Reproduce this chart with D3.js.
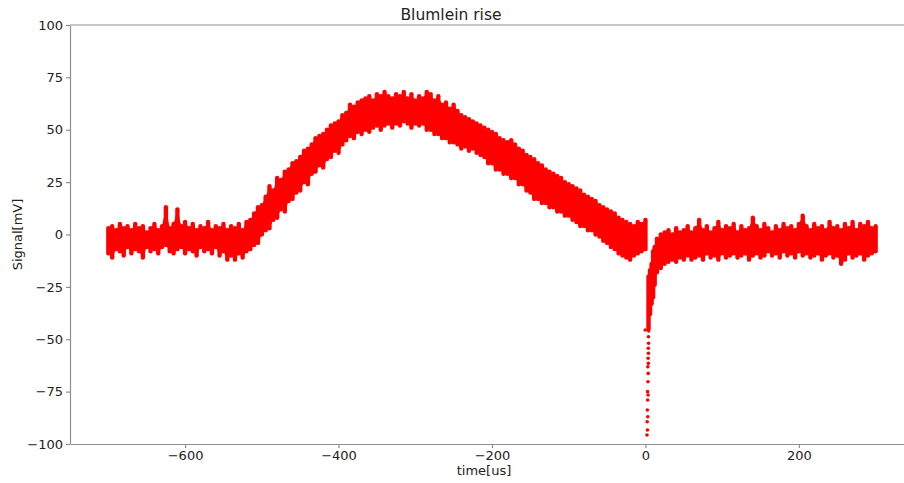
<!DOCTYPE html>
<html>
<head>
<meta charset="utf-8">
<script src="https://cdn.jsdelivr.net/npm/d3@7"></script>
<style>
  body { margin: 0; background: #fff; }
  svg text { font-family: 'DejaVu Sans', sans-serif; fill: #222; }
</style>
</head>
<body>
<svg id="chart"></svg>
<script>
// signal before the discharge, sampled every 5 us from -700 to 0 (upper / lower edge of the trace, mV)
const preStart = -700, preStep = 5;
const preHi = [
    3, 4, 2, 5, 3, 4, 2, 5, 3, 4,
    1, 3, 5, 2, 4, 13, 3, 5, 12, 4,
    6, 3, 5, 2, 4, 3, 6, 2, 4, 3,
    5, 2, 4, 3, 5, 2, 6, 7, 10, 13,
    14, 18, 23, 21, 27, 26, 30, 31, 34, 35,
    37, 40, 41, 43, 46, 47, 48, 50, 52, 53,
    54, 57, 58, 62, 61, 63, 64, 65, 66, 64,
    67, 66, 68, 66, 65, 67, 66, 68, 65, 67,
    64, 66, 65, 68, 67, 64, 66, 62, 63, 60,
    62, 59, 57, 56, 55, 54, 53, 52, 51, 50,
    49, 48, 46, 45, 44, 45, 43, 41, 40, 38,
    37, 36, 34, 33, 31, 30, 29, 28, 27, 25,
    24, 23, 22, 21, 19, 18, 17, 16, 14, 13,
    12, 11, 10, 8, 7, 6, 5, 4, 6, 5,
    7
];
const preLo = [
    -9, -11, -7, -8, -10, -6, -9, -7, -8, -11,
    -6, -8, -7, -9, -6, -5, -8, -9, -7, -6,
    -9, -7, -8, -10, -6, -8, -7, -9, -6, -10,
    -8, -12, -10, -12, -9, -11, -8, -7, -5, -4,
    0, 2, 3, 7, 8, 12, 11, 16, 17, 20,
    21, 25, 24, 29, 30, 33, 32, 36, 37, 40,
    39, 43, 45, 47, 46, 49, 48, 50, 49, 51,
    52, 50, 52, 53, 51, 53, 52, 54, 53, 51,
    53, 52, 53, 50, 50, 48, 48, 46, 46, 44,
    44, 43, 41, 42, 40, 41, 39, 38, 37, 34,
    34, 31, 31, 29, 29, 27, 27, 24, 24, 21,
    20, 17, 17, 15, 15, 13, 13, 11, 11, 9,
    9, 7, 6, 4, 4, 2, 2, 0, -1, -3,
    -4, -6, -7, -9, -10, -11, -12, -10, -9, -8,
    -7
];

// fast drop right after t = 0 (single samples, mV)
const dropTime = [-0.3, 2.0, 2.6, 2.2, 3.0, 2.5, 2.9, 3.4, 2.8, 3.3, 3.6, 3.1, 3.8, 3.5, 3.9, 3.7, 4.1, 3.9, 4.2];
const dropValue = [-45.6, -95.7, -93.3, -89.4, -87.0, -83.8, -79.0, -76.6, -75.0, -70.3, -66.3, -63.1, -61.5, -59.1, -56.7, -54.3, -51.9, -48.8, -46.0];

// recovery of the trace
const recTime = [4, 6, 8, 10, 12];
const recHi = [-20, -17, -14, -8, -6];
const recLo = [-45, -38, -33, -30, -24];

// signal after the discharge, sampled every 5 us from 15 to 300
const postStart = 15, postStep = 5;
const postHi = [
    -2, 0, 1, 2, 0, 3, 1, 2, 4, 1,
    3, 7, 2, 4, 1, 3, 6, 2, 4, 3,
    5, 1, 4, 2, 3, 8, 4, 2, 5, 3,
    1, 4, 2, 5, 3, 4, 2, 5, 9, 4,
    2, 5, 3, 4, 2, 6, 3, 4, 2, 5,
    3, 6, 2, 5, 4, 6, 3, 4
];
const postLo = [
    -18, -16, -14, -13, -12, -13, -11, -12, -10, -12,
    -11, -10, -12, -9, -11, -10, -12, -9, -11, -10,
    -9, -11, -10, -9, -12, -10, -9, -11, -10, -8,
    -10, -9, -11, -8, -10, -9, -11, -8, -10, -9,
    -11, -10, -9, -12, -10, -9, -11, -10, -14, -12,
    -9, -11, -10, -9, -12, -10, -9, -8
];

const xTicks = [-600, -400, -200, 0, 200];
const yTicks = [-100, -75, -50, -25, 0, 25, 50, 75, 100];

const width = 904, height = 483;
const margin = { top: 25, right: -10, bottom: 39, left: 70 };

const svg = d3.select('#chart')
    .attr('width', width)
    .attr('height', height);

const xScale = d3.scaleLinear()
    .domain([-750, 350])
    .range([margin.left, width - margin.right]);

const yScale = d3.scaleLinear()
    .domain([-100, 100])
    .range([height - margin.bottom, margin.top]);

const fmt = d => d < 0 ? '\u2212' + Math.abs(d) : `${d}`;

// sample segments, grouped in the three stretches of the trace
const preSegs = preHi.map((h, i) => ({ t: preStart + i * preStep, hi: h, lo: preLo[i] }));
const recSegs = recTime.map((t, i) => ({ t: t, hi: recHi[i], lo: recLo[i] }));
const postSegs = postHi.map((h, i) => ({ t: postStart + i * postStep, hi: h, lo: postLo[i] }));
const segs = preSegs.concat(recSegs, postSegs);

const plot = svg.append('g');

// solid body of the trace so that no gaps show between the samples
const band = d3.area()
    .x(d => xScale(d.t))
    .y0(d => yScale(d.lo))
    .y1(d => yScale(d.hi));

[preSegs, recSegs.concat(postSegs)].forEach(part => {
    plot.append('path')
        .datum(part)
        .attr('d', band)
        .attr('fill', '#ff0000');
});

plot.selectAll('.seg')
    .data(segs)
    .enter()
    .append('line')
    .attr('class', 'seg')
    .attr('x1', d => xScale(d.t))
    .attr('x2', d => xScale(d.t))
    .attr('y1', d => yScale(d.hi))
    .attr('y2', d => yScale(d.lo))
    .attr('stroke', '#ff0000')
    .attr('stroke-width', 4.4)
    .attr('stroke-linecap', 'round');

plot.selectAll('.dot')
    .data(dropTime.map((t, i) => ({ t: t, v: dropValue[i] })))
    .enter()
    .append('circle')
    .attr('class', 'dot')
    .attr('cx', d => xScale(d.t))
    .attr('cy', d => yScale(d.v))
    .attr('r', 1.8)
    .attr('fill', '#ff0000');

// axes
const xAxis = svg.append('g')
    .attr('transform', `translate(0,${height - margin.bottom})`)
    .call(d3.axisBottom(xScale).tickValues(xTicks).tickFormat(fmt).tickSize(4).tickSizeOuter(0).tickPadding(3));

const yAxis = svg.append('g')
    .attr('transform', `translate(${margin.left},0)`)
    .call(d3.axisLeft(yScale).tickValues(yTicks).tickFormat(fmt).tickSize(4).tickSizeOuter(0).tickPadding(3));

[xAxis, yAxis].forEach(a => {
    a.selectAll('path, line').attr('stroke', '#8f8f8f').attr('stroke-width', 1.2);
    a.selectAll('text').style('font-size', '13px').style('fill', '#222');
});

svg.append('line')
    .attr('x1', margin.left).attr('x2', width)
    .attr('y1', margin.top).attr('y2', margin.top)
    .attr('stroke', '#8f8f8f')
    .attr('stroke-width', 1.2);

svg.append('text')
    .attr('x', 451)
    .attr('y', 20)
    .attr('text-anchor', 'middle')
    .style('font-size', '15.5px')
    .text('Blumlein rise');

svg.append('text')
    .attr('x', 484)
    .attr('y', 475)
    .attr('text-anchor', 'middle')
    .style('font-size', '13px')
    .text('time[us]');

svg.append('text')
    .attr('transform', `translate(22,${yScale(0)}) rotate(-90)`)
    .attr('text-anchor', 'middle')
    .style('font-size', '13px')
    .text('Signal[mV]');
</script>
</body>
</html>
